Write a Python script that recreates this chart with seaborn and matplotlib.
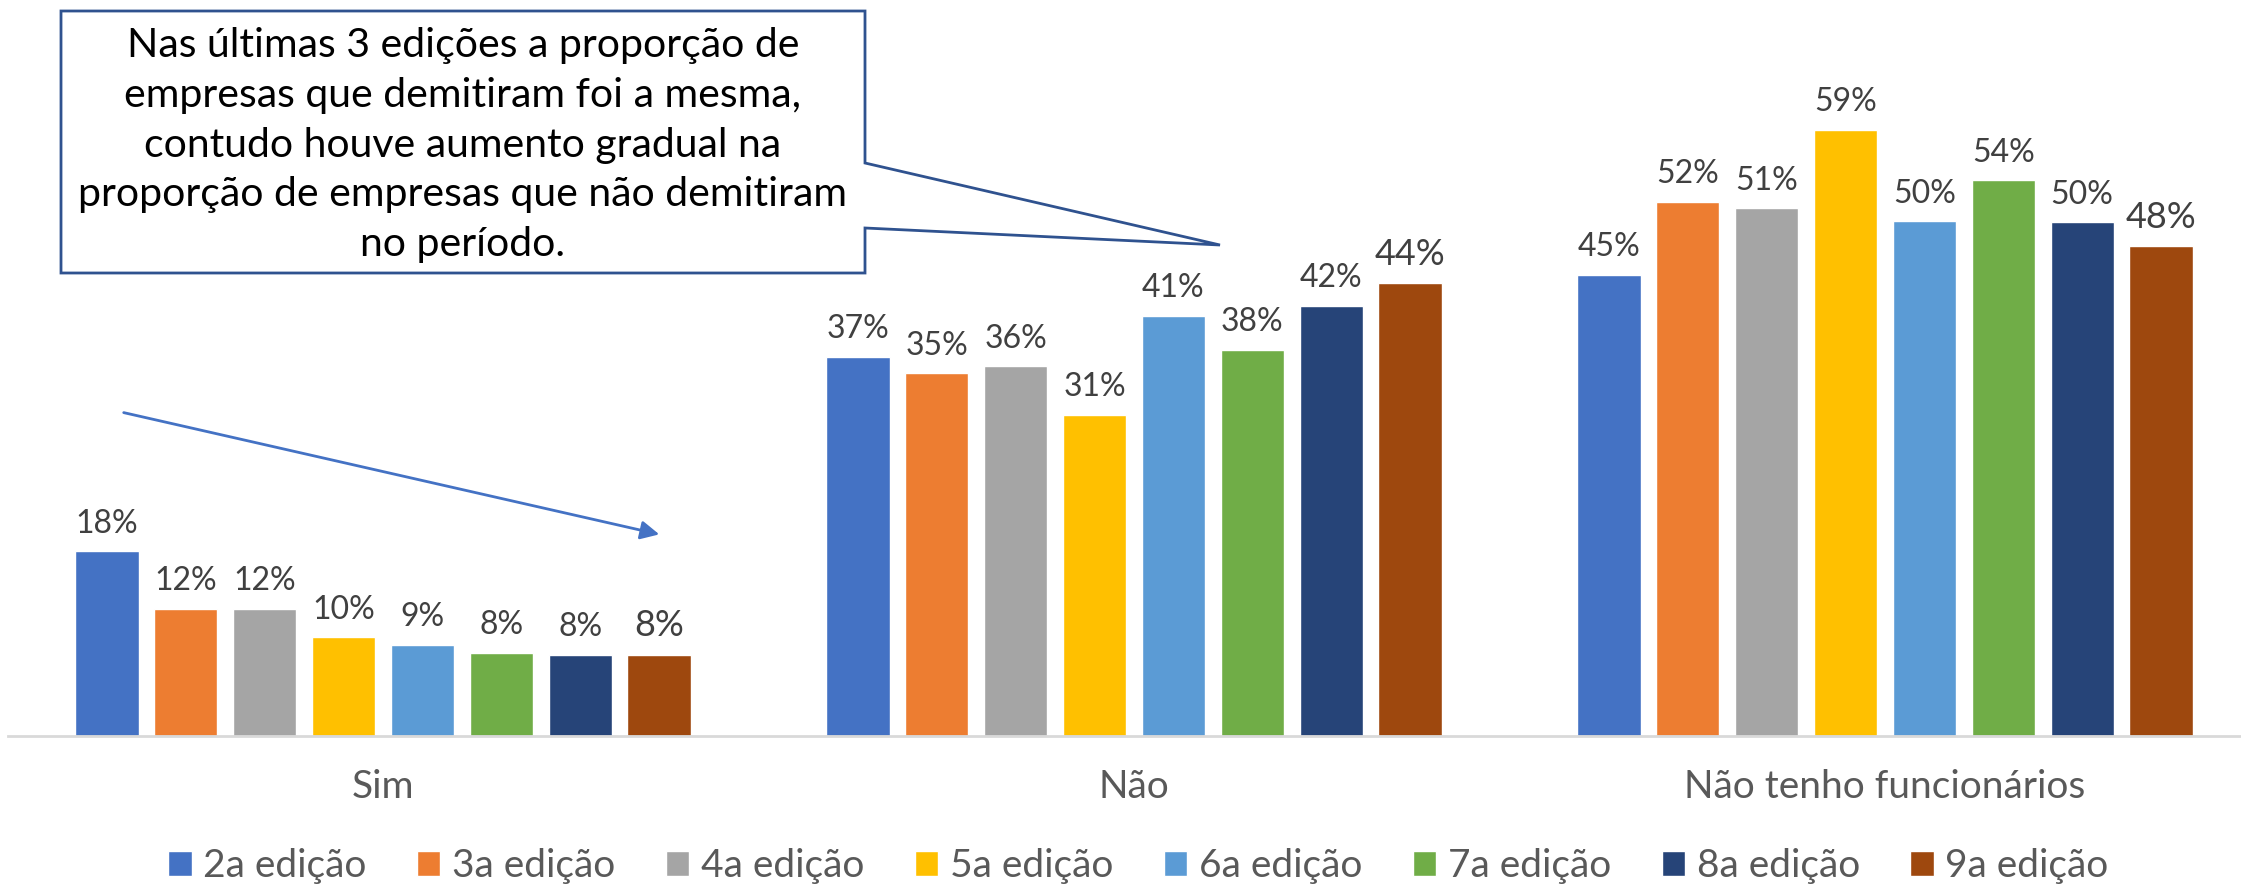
import matplotlib.pyplot as plt
import pandas as pd
import seaborn as sns
from matplotlib.patches import Polygon

# dados (% de empresas)
categorias = ['Sim', 'Não', 'Não tenho funcionários']
edicoes = ['2a edição', '3a edição', '4a edição', '5a edição',
           '6a edição', '7a edição', '8a edição', '9a edição']
sim = [18.0, 12.4, 12.4, 9.6, 8.9, 8.1, 7.9, 7.9]
nao = [36.9, 35.3, 36.0, 31.3, 40.9, 37.6, 41.9, 44.1]
sem_func = [44.9, 52.0, 51.4, 59.0, 50.1, 54.1, 50.0, 47.7]
cores = ['#4472C4', '#ED7D31', '#A5A5A5', '#FFC000',
         '#5B9BD5', '#70AD47', '#264478', '#9E480E']
texto_caixa = ('Nas últimas 3 edições a proporção de\n'
               'empresas que demitiram foi a mesma,\n'
               'contudo houve aumento gradual na\n'
               'proporção de empresas que não demitiram\n'
               'no período.')

rows = []
for cat, vals in zip(categorias, [sim, nao, sem_func]):
    for ed, v in zip(edicoes, vals):
        rows.append({'Categoria': cat, 'Edição': ed, 'Valor': v})
df = pd.DataFrame(rows)

sns.set_style('white')
plt.rcParams['font.family'] = ['Lato', 'DejaVu Sans']

W, H = 2241, 888
fig = plt.figure(figsize=(W / 100, H / 100), dpi=100)
ax = fig.add_axes([7.5 / W, (H - 736) / H, 2253 / W, 719 / H])

sns.barplot(data=df, x='Categoria', y='Valor', hue='Edição', palette=cores,
            saturation=1, width=0.84, gap=0.2, ax=ax)

for i, cont in enumerate(ax.containers):
    labs = [f'{b.get_height():.0f}%' for b in cont]
    ax.bar_label(cont, labels=labs, padding=9, color='#404040',
                 fontsize=26 if i == 7 else 23)

ax.set_ylim(0, 70)
ax.set_xlim(-0.5, 2.5)
ax.set_xlabel('')
ax.set_ylabel('')
ax.set_yticks([])
sns.despine(ax=ax, left=True)
ax.spines['bottom'].set_color('#D9D9D9')
ax.spines['bottom'].set_linewidth(2)
ax.tick_params(axis='x', length=0, pad=24, labelsize=28, labelcolor='#595959')

sns.move_legend(ax, 'center', bbox_to_anchor=(0.508, 1 - 866 / H),
                bbox_transform=fig.transFigure, ncol=8, frameon=False,
                title=None, fontsize=28, handlelength=0.6, handleheight=0.6,
                handletextpad=0.3, columnspacing=1.3)
for t in ax.get_legend().get_texts():
    t.set_color('#595959')

# caixa de comentário
pts = [(61, 11), (865, 11), (865, 163), (1220, 245), (865, 228),
       (865, 273), (61, 273)]
poly = Polygon([(x / W, 1 - y / H) for x, y in pts], closed=True,
               transform=fig.transFigure, facecolor='white',
               edgecolor='#2F528F', linewidth=2, zorder=5)
fig.patches.append(poly)
fig.text(463 / W, 1 - 145 / H, texto_caixa, ha='center', va='center',
         fontsize=29.5, linespacing=1.43, color='black', zorder=6)

# seta
ax.annotate('', xy=(662 / W, 1 - 535 / H), xytext=(121 / W, 1 - 412 / H),
            xycoords='figure fraction', textcoords='figure fraction',
            arrowprops=dict(arrowstyle='-|>', color='#4472C4', lw=2,
                            mutation_scale=28))

fig.savefig('out.png', dpi=100)
